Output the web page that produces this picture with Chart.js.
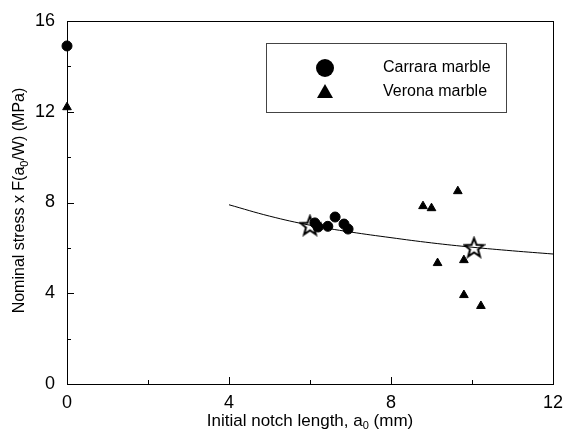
<!DOCTYPE html>
<html>
<head>
<meta charset="utf-8">
<script src="https://cdn.jsdelivr.net/npm/chart.js@4.4.1/dist/chart.umd.min.js"></script>
<style>
  html, body { margin: 0; padding: 0; background: #fff; }
  #wrap { width: 566px; height: 436px; }
</style>
</head>
<body>
<div id="wrap"><canvas id="marbleChart" width="566" height="436"></canvas></div>
<script>
  // values
  const carraraX = [0, 6.12, 6.2, 6.44, 6.62, 6.84, 6.94];
  const carraraY = [14.9, 7.1, 6.92, 6.95, 7.36, 7.05, 6.83];
  const veronaX = [0, 8.79, 9.0, 9.65, 9.15, 9.8, 9.8, 10.22];
  const veronaY = [12.2, 7.84, 7.75, 8.5, 5.33, 5.46, 3.92, 3.44];
  const starX = [6.0, 10.05];
  const starY = [7.0, 6.03];
  const curveX = [4, 5, 6, 7, 8, 9, 10, 11, 12];
  const curveY = [7.9, 7.4, 7.0, 6.7, 6.45, 6.22, 6.03, 5.87, 5.73];
  const xMajor = [0, 4, 8, 12];
  const xMinor = [2, 6, 10];
  const yMajor = [0, 4, 8, 12, 16];
  const yMinor = [2, 6, 10, 14];

  const FONT = '"Liberation Sans", Arial, sans-serif';

  function pts(xs, ys) {
    return xs.map((x, i) => ({ x: x, y: ys[i] }));
  }

  // open five-pointed star used as point style
  function makeStar(size) {
    const c = document.createElement('canvas');
    c.width = size; c.height = size;
    const g = c.getContext('2d');
    const cx = size / 2, cy = size / 2 + 1, ro = size / 2 - 1.5, ri = ro * 0.42;
    g.beginPath();
    for (let i = 0; i < 10; i++) {
      const r = i % 2 === 0 ? ro : ri;
      const a = -Math.PI / 2 + i * Math.PI / 5;
      const px = cx + r * Math.cos(a), py = cy + r * Math.sin(a);
      if (i === 0) g.moveTo(px, py); else g.lineTo(px, py);
    }
    g.closePath();
    g.fillStyle = '#fff';
    g.fill();
    g.lineWidth = 2;
    g.strokeStyle = '#000';
    g.stroke();
    return c;
  }
  const starImg = makeStar(23);

  // frame, inward ticks, axis titles and legend box
  const decorations = {
    id: 'decorations',
    afterDraw(chart) {
      const ctx = chart.ctx;
      const a = chart.chartArea;
      const xs = chart.scales.x, ys = chart.scales.y;
      ctx.save();
      ctx.strokeStyle = '#000';
      ctx.lineWidth = 1;
      ctx.strokeRect(Math.round(a.left) + 0.5, Math.round(a.top) + 0.5,
        Math.round(a.right - a.left), Math.round(a.bottom - a.top));
      ctx.beginPath();
      xMajor.concat(xMinor).forEach(v => {
        const p = Math.round(xs.getPixelForValue(v)) + 0.5;
        const len = xMajor.includes(v) ? 7 : 4;
        ctx.moveTo(p, a.bottom); ctx.lineTo(p, a.bottom - len);
      });
      yMajor.concat(yMinor).forEach(v => {
        const p = Math.round(ys.getPixelForValue(v)) + 0.5;
        const len = yMajor.includes(v) ? 7 : 4;
        ctx.moveTo(a.left, p); ctx.lineTo(a.left + len, p);
      });
      ctx.stroke();

      ctx.fillStyle = '#000';
      ctx.textBaseline = 'middle';
      ctx.textAlign = 'left';
      // x title with subscript
      ctx.font = '17px ' + FONT;
      const t1 = 'Initial notch length, a', t2 = ' (mm)';
      const w1 = ctx.measureText(t1).width, w2 = ctx.measureText(t2).width;
      ctx.font = '11px ' + FONT;
      const ws = ctx.measureText('0').width;
      let x0 = (a.left + a.right) / 2 - (w1 + ws + w2) / 2;
      const yT = 421;
      ctx.font = '17px ' + FONT;
      ctx.fillText(t1, x0, yT);
      ctx.font = '11px ' + FONT;
      ctx.fillText('0', x0 + w1, yT + 5);
      ctx.font = '17px ' + FONT;
      ctx.fillText(t2, x0 + w1 + ws, yT);

      // y title, rotated
      ctx.save();
      ctx.translate(20, (a.top + a.bottom) / 2 - 2);
      ctx.rotate(-Math.PI / 2);
      ctx.font = '16px ' + FONT;
      const s1 = 'Nominal stress x F(a', s2 = '/W) (MPa)';
      const v1 = ctx.measureText(s1).width, v2 = ctx.measureText(s2).width;
      let y0 = -(v1 + ws + v2) / 2;
      ctx.fillText(s1, y0, 0);
      ctx.font = '11px ' + FONT;
      ctx.fillText('0', y0 + v1, 5);
      ctx.font = '16px ' + FONT;
      ctx.fillText(s2, y0 + v1 + ws, 0);
      ctx.restore();

      // legend
      ctx.strokeStyle = '#444';
      ctx.strokeRect(266.5, 43.5, 240, 69);
      ctx.beginPath();
      ctx.arc(325, 68, 9, 0, Math.PI * 2);
      ctx.fill();
      ctx.beginPath();
      ctx.moveTo(325, 84); ctx.lineTo(333, 98); ctx.lineTo(317, 98);
      ctx.closePath();
      ctx.fill();
      ctx.font = '16px ' + FONT;
      ctx.fillText('Carrara marble', 383, 68);
      ctx.fillText('Verona marble', 383, 92);
      ctx.restore();
    }
  };

  const ctx = document.getElementById('marbleChart').getContext('2d');
  const marbleChart = new Chart(ctx, {
    type: 'scatter',
    data: {
      datasets: [
        {
          label: 'Fit',
          type: 'line',
          data: pts(curveX, curveY),
          borderColor: '#000',
          borderWidth: 1,
          pointRadius: 0,
          tension: 0.4,
          fill: false
        },
        {
          label: 'Carrara marble',
          data: pts(carraraX, carraraY),
          pointStyle: 'circle',
          pointRadius: 5,
          backgroundColor: '#000',
          borderColor: '#000',
          clip: false
        },
        {
          label: 'Verona marble',
          data: pts(veronaX, veronaY),
          pointStyle: 'triangle',
          pointRadius: 5,
          backgroundColor: '#000',
          borderColor: '#000',
          clip: false
        },
        {
          label: 'Mean',
          data: pts(starX, starY),
          pointStyle: starImg,
          clip: false
        }
      ]
    },
    options: {
      responsive: false,
      animation: false,
      events: [],
      layout: { padding: { top: 21, right: 13, left: 0, bottom: 0 } },
      scales: {
        x: {
          type: 'linear',
          min: 0, max: 12,
          afterFit: s => { s.height = 52; s.paddingLeft = 0; s.paddingRight = 0; },
          grid: { display: false, drawTicks: false },
          border: { display: false },
          ticks: { stepSize: 4, padding: 8, color: '#000', font: { size: 18, family: FONT } }
        },
        y: {
          type: 'linear',
          min: 0, max: 16,
          afterFit: s => { s.width = 67; s.paddingTop = 0; s.paddingBottom = 0; },
          grid: { display: false, drawTicks: false },
          border: { display: false },
          ticks: { stepSize: 4, padding: 12, color: '#000', font: { size: 18, family: FONT } }
        }
      },
      plugins: {
        legend: { display: false },
        tooltip: { enabled: false }
      }
    },
    plugins: [decorations]
  });
</script>
</body>
</html>
